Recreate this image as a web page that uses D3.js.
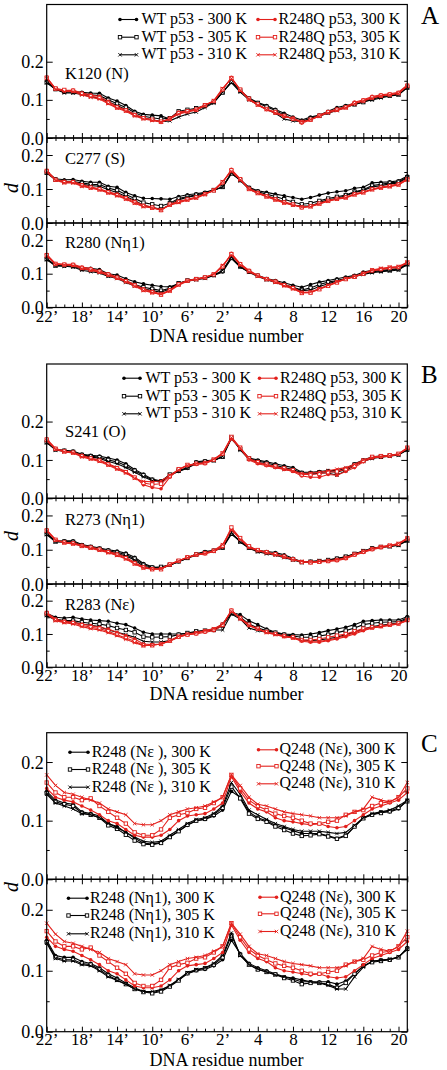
<!DOCTYPE html>
<html><head><meta charset="utf-8">
<script src="https://cdn.jsdelivr.net/npm/d3@7"></script>
<style>body{margin:0;background:#fff} svg{display:block}</style>
</head><body><svg id="c" width="447" height="1070"></svg>
<script>
// ---------- categories / tick labels ----------
const residueLabels = ["22’","18’","14’","10’","6’","2’","4","8","12","16","20"];
const residueTickIdx = [0,4,8,12,16,20,24,28,32,36,40];
const residueIdx = d3.range(42);           // 22' ... 2', 1 ... 21
const yTickVals = [0, 0.1, 0.2];
const yMinorVals = [0.05, 0.15];
const legendTemps = ["300 K","305 K","310 K"];

// ---------- panel A : K120 (N) ----------
const K120_wt300 = [0.148,0.129,0.120,0.122,0.120,0.118,0.117,0.105,0.097,0.085,0.070,0.062,0.060,0.058,0.050,0.065,0.070,0.075,0.083,0.095,0.120,0.148,0.125,0.105,0.093,0.085,0.075,0.065,0.055,0.047,0.055,0.060,0.070,0.080,0.085,0.090,0.095,0.105,0.110,0.112,0.115,0.133];
const K120_wt305 = [0.146,0.128,0.121,0.120,0.117,0.113,0.111,0.100,0.090,0.080,0.066,0.057,0.053,0.050,0.052,0.070,0.074,0.078,0.085,0.094,0.119,0.147,0.124,0.103,0.092,0.082,0.072,0.060,0.050,0.043,0.052,0.058,0.067,0.075,0.082,0.088,0.094,0.102,0.108,0.111,0.114,0.132];
const K120_wt310 = [0.145,0.128,0.118,0.118,0.114,0.108,0.105,0.095,0.085,0.075,0.060,0.053,0.048,0.043,0.045,0.055,0.063,0.068,0.080,0.092,0.120,0.145,0.120,0.100,0.088,0.075,0.065,0.050,0.045,0.043,0.050,0.058,0.065,0.072,0.080,0.088,0.095,0.100,0.105,0.110,0.113,0.133];
const K120_mu300 = [0.160,0.129,0.124,0.126,0.118,0.113,0.109,0.096,0.082,0.074,0.062,0.053,0.047,0.041,0.052,0.068,0.071,0.076,0.087,0.096,0.126,0.159,0.126,0.100,0.087,0.074,0.065,0.056,0.052,0.039,0.047,0.060,0.069,0.076,0.082,0.094,0.100,0.109,0.113,0.116,0.120,0.139];
const K120_mu305 = [0.158,0.130,0.126,0.124,0.116,0.110,0.105,0.092,0.080,0.072,0.060,0.052,0.048,0.043,0.050,0.065,0.070,0.074,0.086,0.097,0.128,0.157,0.127,0.103,0.088,0.076,0.068,0.058,0.050,0.042,0.048,0.058,0.068,0.074,0.080,0.091,0.098,0.106,0.111,0.114,0.118,0.137];
const K120_mu310 = [0.156,0.128,0.122,0.122,0.113,0.107,0.102,0.090,0.078,0.070,0.058,0.050,0.046,0.042,0.050,0.063,0.068,0.073,0.085,0.098,0.130,0.156,0.125,0.102,0.086,0.075,0.066,0.057,0.051,0.043,0.048,0.057,0.066,0.072,0.079,0.090,0.097,0.104,0.110,0.113,0.117,0.136];

// ---------- panel A : C277 (S) ----------
const C277_wt300 = [0.150,0.130,0.127,0.128,0.123,0.120,0.120,0.108,0.105,0.090,0.080,0.073,0.072,0.071,0.070,0.078,0.083,0.086,0.090,0.098,0.105,0.145,0.128,0.105,0.095,0.090,0.085,0.080,0.075,0.070,0.075,0.082,0.088,0.092,0.095,0.102,0.105,0.118,0.120,0.121,0.124,0.138];
const C277_wt305 = [0.148,0.128,0.122,0.122,0.118,0.114,0.113,0.103,0.096,0.084,0.072,0.060,0.055,0.050,0.058,0.072,0.078,0.083,0.088,0.097,0.106,0.146,0.126,0.103,0.092,0.085,0.078,0.070,0.062,0.055,0.058,0.065,0.072,0.077,0.082,0.092,0.098,0.110,0.114,0.118,0.121,0.135];
const C277_wt310 = [0.147,0.127,0.120,0.120,0.114,0.110,0.108,0.098,0.090,0.078,0.066,0.052,0.046,0.040,0.054,0.068,0.076,0.080,0.086,0.096,0.106,0.148,0.125,0.100,0.088,0.080,0.072,0.062,0.052,0.050,0.050,0.060,0.068,0.073,0.080,0.090,0.096,0.106,0.110,0.115,0.118,0.133];
const C277_mu300 = [0.155,0.128,0.123,0.122,0.113,0.106,0.101,0.092,0.085,0.075,0.064,0.052,0.047,0.037,0.055,0.064,0.070,0.076,0.086,0.095,0.118,0.158,0.130,0.102,0.090,0.080,0.071,0.062,0.056,0.045,0.050,0.058,0.066,0.072,0.076,0.086,0.091,0.100,0.106,0.110,0.115,0.130];
const C277_mu305 = [0.153,0.127,0.120,0.120,0.110,0.104,0.099,0.090,0.082,0.072,0.060,0.050,0.045,0.038,0.054,0.062,0.069,0.075,0.085,0.096,0.120,0.155,0.129,0.100,0.088,0.078,0.069,0.060,0.054,0.046,0.049,0.057,0.065,0.071,0.075,0.084,0.090,0.099,0.104,0.108,0.113,0.128];
const C277_mu310 = [0.150,0.126,0.118,0.118,0.108,0.102,0.097,0.088,0.080,0.070,0.058,0.048,0.044,0.039,0.052,0.060,0.067,0.073,0.084,0.097,0.122,0.152,0.127,0.099,0.087,0.077,0.068,0.059,0.052,0.047,0.048,0.056,0.064,0.070,0.074,0.083,0.089,0.098,0.103,0.107,0.112,0.127];

// ---------- panel A : R280 (Nη1) ----------
const R280_wt300 = [0.145,0.125,0.125,0.125,0.118,0.116,0.112,0.100,0.096,0.085,0.076,0.070,0.066,0.062,0.061,0.070,0.080,0.085,0.088,0.095,0.105,0.145,0.120,0.105,0.095,0.086,0.080,0.073,0.066,0.060,0.068,0.075,0.080,0.085,0.090,0.095,0.105,0.110,0.110,0.112,0.115,0.130];
const R280_wt305 = [0.143,0.124,0.124,0.122,0.114,0.110,0.106,0.095,0.090,0.078,0.068,0.060,0.055,0.050,0.057,0.072,0.080,0.084,0.088,0.096,0.108,0.148,0.122,0.106,0.094,0.084,0.076,0.068,0.060,0.052,0.058,0.068,0.075,0.080,0.086,0.092,0.100,0.106,0.108,0.110,0.113,0.128];
const R280_wt310 = [0.142,0.123,0.122,0.120,0.110,0.106,0.102,0.092,0.086,0.074,0.064,0.055,0.050,0.045,0.055,0.070,0.078,0.082,0.086,0.095,0.110,0.150,0.120,0.104,0.092,0.082,0.074,0.066,0.058,0.050,0.052,0.062,0.070,0.078,0.085,0.092,0.098,0.103,0.106,0.108,0.111,0.127];
const R280_mu300 = [0.157,0.130,0.128,0.128,0.120,0.115,0.108,0.100,0.090,0.080,0.068,0.055,0.048,0.040,0.052,0.070,0.080,0.085,0.090,0.098,0.120,0.160,0.130,0.110,0.095,0.085,0.078,0.068,0.060,0.045,0.045,0.055,0.065,0.075,0.085,0.090,0.100,0.108,0.112,0.116,0.118,0.132];
const R280_mu305 = [0.155,0.129,0.127,0.126,0.117,0.112,0.106,0.097,0.088,0.078,0.065,0.052,0.045,0.038,0.050,0.068,0.079,0.084,0.089,0.098,0.122,0.158,0.128,0.108,0.094,0.084,0.076,0.066,0.057,0.043,0.044,0.054,0.064,0.074,0.084,0.091,0.100,0.110,0.114,0.118,0.120,0.133];
const R280_mu310 = [0.152,0.128,0.126,0.124,0.115,0.110,0.104,0.095,0.086,0.076,0.063,0.050,0.044,0.039,0.049,0.066,0.078,0.083,0.088,0.099,0.125,0.155,0.126,0.106,0.093,0.083,0.075,0.064,0.055,0.044,0.046,0.056,0.066,0.076,0.086,0.092,0.101,0.111,0.116,0.119,0.121,0.134];

// ---------- panel B : S241 (O) ----------
const S241_wt300 = [0.148,0.128,0.125,0.123,0.115,0.112,0.110,0.105,0.100,0.090,0.075,0.063,0.050,0.045,0.060,0.070,0.078,0.095,0.098,0.100,0.108,0.155,0.130,0.105,0.100,0.095,0.090,0.085,0.080,0.068,0.068,0.070,0.072,0.072,0.078,0.090,0.100,0.108,0.110,0.112,0.115,0.128];
const S241_wt305 = [0.146,0.127,0.124,0.121,0.113,0.110,0.107,0.100,0.095,0.085,0.072,0.060,0.048,0.044,0.062,0.072,0.080,0.093,0.096,0.099,0.108,0.158,0.128,0.104,0.097,0.092,0.086,0.080,0.075,0.066,0.065,0.068,0.070,0.068,0.075,0.088,0.098,0.106,0.108,0.111,0.114,0.127];
const S241_wt310 = [0.145,0.126,0.122,0.120,0.111,0.108,0.104,0.096,0.090,0.080,0.068,0.056,0.046,0.042,0.060,0.071,0.079,0.090,0.094,0.098,0.109,0.160,0.126,0.102,0.094,0.088,0.082,0.076,0.072,0.064,0.062,0.066,0.066,0.060,0.072,0.086,0.096,0.104,0.107,0.110,0.113,0.126];
const S241_mu300 = [0.155,0.130,0.123,0.120,0.112,0.105,0.100,0.090,0.080,0.070,0.055,0.035,0.028,0.025,0.055,0.075,0.085,0.088,0.090,0.100,0.115,0.155,0.130,0.100,0.090,0.085,0.080,0.075,0.070,0.058,0.055,0.055,0.062,0.060,0.070,0.080,0.095,0.105,0.108,0.110,0.115,0.130];
const S241_mu305 = [0.153,0.129,0.122,0.119,0.110,0.104,0.098,0.088,0.078,0.068,0.054,0.040,0.036,0.038,0.058,0.076,0.087,0.090,0.092,0.101,0.117,0.160,0.132,0.104,0.094,0.088,0.083,0.078,0.073,0.062,0.062,0.064,0.068,0.070,0.076,0.085,0.098,0.108,0.110,0.112,0.116,0.132];
const S241_mu310 = [0.150,0.128,0.121,0.118,0.108,0.102,0.096,0.086,0.076,0.066,0.052,0.044,0.043,0.045,0.060,0.074,0.086,0.090,0.093,0.102,0.118,0.158,0.131,0.103,0.092,0.087,0.081,0.076,0.071,0.064,0.066,0.068,0.072,0.076,0.080,0.088,0.100,0.106,0.109,0.111,0.115,0.131];

// ---------- panel B : R273 (Nη1) ----------
const R273_wt300 = [0.148,0.125,0.126,0.126,0.115,0.110,0.105,0.100,0.096,0.090,0.078,0.060,0.050,0.045,0.055,0.065,0.075,0.088,0.095,0.098,0.105,0.145,0.125,0.108,0.098,0.095,0.092,0.085,0.075,0.065,0.066,0.068,0.070,0.075,0.078,0.088,0.095,0.105,0.108,0.110,0.115,0.128];
const R273_wt305 = [0.146,0.124,0.124,0.123,0.113,0.108,0.103,0.097,0.092,0.086,0.074,0.056,0.048,0.050,0.056,0.066,0.076,0.086,0.092,0.097,0.106,0.148,0.124,0.106,0.096,0.092,0.088,0.080,0.072,0.064,0.065,0.067,0.070,0.074,0.080,0.088,0.096,0.104,0.108,0.110,0.114,0.127];
const R273_wt310 = [0.144,0.123,0.122,0.121,0.111,0.106,0.101,0.094,0.088,0.082,0.070,0.052,0.046,0.047,0.055,0.066,0.075,0.084,0.090,0.096,0.106,0.150,0.122,0.104,0.094,0.088,0.084,0.077,0.070,0.063,0.064,0.067,0.069,0.073,0.079,0.087,0.096,0.103,0.107,0.109,0.113,0.126];
const R273_mu300 = [0.158,0.130,0.122,0.120,0.113,0.108,0.102,0.095,0.088,0.078,0.063,0.050,0.044,0.045,0.058,0.068,0.078,0.085,0.088,0.095,0.108,0.162,0.132,0.108,0.098,0.092,0.086,0.080,0.072,0.065,0.062,0.064,0.066,0.068,0.074,0.084,0.092,0.100,0.106,0.110,0.116,0.132];
const R273_mu305 = [0.156,0.129,0.121,0.118,0.111,0.106,0.100,0.093,0.085,0.075,0.060,0.048,0.043,0.043,0.057,0.068,0.078,0.086,0.090,0.097,0.112,0.165,0.134,0.110,0.099,0.093,0.087,0.080,0.072,0.064,0.063,0.065,0.067,0.070,0.076,0.086,0.094,0.102,0.108,0.112,0.117,0.133];
const R273_mu310 = [0.154,0.128,0.120,0.117,0.110,0.104,0.098,0.091,0.083,0.073,0.058,0.047,0.043,0.044,0.056,0.067,0.077,0.085,0.089,0.098,0.115,0.158,0.130,0.106,0.097,0.091,0.085,0.079,0.071,0.066,0.064,0.066,0.068,0.071,0.077,0.087,0.095,0.103,0.109,0.113,0.118,0.134];

// ---------- panel B : R283 (Nε) ----------
const R283_wt300 = [0.162,0.150,0.148,0.150,0.145,0.142,0.140,0.138,0.132,0.128,0.118,0.105,0.100,0.100,0.100,0.100,0.102,0.106,0.110,0.113,0.130,0.165,0.158,0.140,0.128,0.115,0.105,0.100,0.098,0.097,0.100,0.104,0.110,0.115,0.120,0.128,0.138,0.140,0.142,0.142,0.142,0.152];
const R283_wt305 = [0.158,0.145,0.140,0.140,0.135,0.132,0.130,0.125,0.118,0.112,0.105,0.092,0.090,0.091,0.092,0.098,0.103,0.108,0.110,0.112,0.125,0.162,0.150,0.130,0.118,0.110,0.104,0.098,0.094,0.090,0.090,0.094,0.098,0.104,0.110,0.118,0.128,0.132,0.135,0.136,0.137,0.148];
const R283_wt310 = [0.155,0.142,0.138,0.136,0.130,0.126,0.122,0.112,0.105,0.098,0.090,0.078,0.076,0.076,0.080,0.092,0.100,0.106,0.110,0.112,0.112,0.160,0.145,0.118,0.110,0.105,0.100,0.095,0.090,0.082,0.080,0.082,0.086,0.090,0.098,0.106,0.115,0.122,0.126,0.130,0.133,0.145];
const R283_mu300 = [0.165,0.145,0.138,0.135,0.130,0.125,0.120,0.115,0.105,0.095,0.085,0.070,0.068,0.070,0.078,0.090,0.098,0.100,0.105,0.110,0.125,0.172,0.145,0.125,0.115,0.105,0.100,0.092,0.088,0.078,0.075,0.075,0.080,0.085,0.092,0.100,0.110,0.118,0.122,0.126,0.130,0.140];
const R283_mu305 = [0.163,0.142,0.136,0.133,0.126,0.120,0.116,0.108,0.098,0.088,0.078,0.066,0.066,0.070,0.080,0.092,0.098,0.102,0.108,0.114,0.128,0.170,0.148,0.128,0.116,0.106,0.100,0.094,0.090,0.082,0.082,0.085,0.090,0.095,0.100,0.108,0.116,0.120,0.124,0.128,0.132,0.142];
const R283_mu310 = [0.160,0.140,0.134,0.130,0.122,0.116,0.112,0.104,0.095,0.084,0.074,0.065,0.066,0.070,0.080,0.093,0.100,0.104,0.110,0.116,0.130,0.168,0.146,0.126,0.114,0.104,0.098,0.092,0.088,0.080,0.078,0.078,0.082,0.088,0.095,0.104,0.112,0.118,0.122,0.126,0.130,0.141];

// ---------- panel C : R248 (Nε), R248 (Nη1), Q248 (Nε) ----------
const R248Ne_300 = [0.150,0.135,0.130,0.128,0.115,0.112,0.108,0.095,0.090,0.080,0.070,0.062,0.060,0.063,0.072,0.082,0.092,0.100,0.102,0.108,0.118,0.150,0.140,0.115,0.105,0.100,0.092,0.088,0.083,0.078,0.078,0.078,0.074,0.070,0.075,0.090,0.105,0.110,0.115,0.115,0.120,0.135];
const R248Ne_305 = [0.147,0.132,0.128,0.125,0.113,0.110,0.105,0.092,0.086,0.076,0.066,0.060,0.059,0.062,0.072,0.082,0.093,0.100,0.103,0.110,0.122,0.158,0.138,0.112,0.103,0.098,0.090,0.084,0.078,0.074,0.075,0.077,0.073,0.069,0.074,0.090,0.104,0.110,0.113,0.116,0.122,0.133];
const R248Ne_310 = [0.145,0.130,0.125,0.120,0.112,0.110,0.105,0.095,0.088,0.080,0.072,0.065,0.063,0.065,0.075,0.085,0.095,0.102,0.105,0.112,0.125,0.165,0.145,0.118,0.110,0.102,0.095,0.090,0.085,0.082,0.082,0.082,0.080,0.078,0.080,0.092,0.105,0.112,0.115,0.118,0.125,0.135];
const R248Nh_300 = [0.150,0.125,0.122,0.122,0.115,0.112,0.105,0.095,0.088,0.080,0.072,0.066,0.064,0.068,0.075,0.085,0.095,0.100,0.102,0.108,0.118,0.150,0.128,0.112,0.105,0.100,0.095,0.090,0.088,0.085,0.082,0.082,0.082,0.078,0.083,0.095,0.108,0.115,0.118,0.118,0.122,0.138];
const R248Nh_305 = [0.147,0.122,0.118,0.118,0.112,0.110,0.102,0.092,0.085,0.078,0.070,0.065,0.063,0.066,0.074,0.084,0.096,0.101,0.104,0.110,0.122,0.158,0.126,0.110,0.102,0.098,0.094,0.088,0.084,0.078,0.080,0.080,0.078,0.072,0.080,0.095,0.108,0.114,0.116,0.118,0.122,0.136];
const R248Nh_310 = [0.145,0.120,0.116,0.116,0.110,0.108,0.100,0.090,0.084,0.078,0.070,0.066,0.066,0.069,0.076,0.086,0.097,0.102,0.105,0.112,0.125,0.162,0.125,0.110,0.103,0.098,0.093,0.090,0.086,0.082,0.082,0.080,0.076,0.070,0.070,0.090,0.106,0.116,0.117,0.119,0.123,0.135];
const Q248Ne_300 = [0.155,0.140,0.135,0.132,0.125,0.118,0.110,0.100,0.095,0.085,0.075,0.072,0.072,0.075,0.085,0.100,0.108,0.110,0.112,0.120,0.130,0.175,0.150,0.130,0.120,0.115,0.105,0.100,0.098,0.095,0.093,0.095,0.090,0.088,0.090,0.100,0.110,0.120,0.125,0.130,0.135,0.148];
const Q248Ne_305 = [0.165,0.148,0.140,0.140,0.135,0.138,0.125,0.115,0.105,0.095,0.080,0.075,0.075,0.085,0.105,0.110,0.113,0.120,0.122,0.130,0.140,0.178,0.155,0.135,0.125,0.118,0.112,0.108,0.105,0.100,0.095,0.095,0.098,0.100,0.110,0.115,0.118,0.125,0.130,0.132,0.140,0.155];
const Q248Ne_310 = [0.178,0.160,0.148,0.145,0.140,0.135,0.130,0.120,0.115,0.110,0.095,0.093,0.093,0.100,0.110,0.115,0.120,0.122,0.125,0.132,0.140,0.178,0.160,0.140,0.128,0.125,0.120,0.115,0.112,0.110,0.108,0.105,0.105,0.105,0.108,0.115,0.120,0.140,0.135,0.132,0.140,0.165];

// ---------- layout ----------
const BLACK = "#000", RED = "#e3201c";
const FONT = "'Liberation Serif','Times New Roman',serif";
const svg = d3.select("#c");
const x = d3.scaleLinear().domain([0, 41]).range([46.7, 407.3]);

const styles = [
  {color: BLACK, marker: "circle"}, {color: BLACK, marker: "square"}, {color: BLACK, marker: "cross"},
  {color: RED, marker: "circle"}, {color: RED, marker: "square"}, {color: RED, marker: "cross"}
];

function drawMarkers(g, type, pts, color) {
  if (type === "circle") {
    g.selectAll("circle.m").data(pts).join("circle").attr("class","m")
      .attr("cx", d => d[0]).attr("cy", d => d[1]).attr("r", 1.8).attr("fill", color);
  } else if (type === "square") {
    g.selectAll("rect.m").data(pts).join("rect").attr("class","m")
      .attr("x", d => d[0]-1.7).attr("y", d => d[1]-1.7).attr("width", 3.4).attr("height", 3.4)
      .attr("fill", "#fff").attr("stroke", color).attr("stroke-width", 0.9);
  } else {
    g.selectAll("path.m").data(pts).join("path").attr("class","m")
      .attr("d", d => `M${d[0]-1.7},${d[1]-1.7}L${d[0]+1.7},${d[1]+1.7}M${d[0]-1.7},${d[1]+1.7}L${d[0]+1.7},${d[1]-1.7}`)
      .attr("stroke", color).attr("stroke-width", 0.9);
  }
}

function styleAxis(g, size) {
  g.select(".domain").remove();
  g.attr("font-family", FONT).attr("font-size", size);
  g.selectAll("line").attr("stroke", "#000").attr("stroke-width", 1);
}

function drawSub(s) {
  const y = d3.scaleLinear().domain([0, s.ymax]).range([s.bottom, s.top]);
  const g = svg.append("g");
  // left axis (ticks inward)
  g.append("g").attr("transform", `translate(${x.range()[0]},0)`)
    .call(d3.axisLeft(y).tickValues(yTickVals).tickSize(-6).tickPadding(3).tickFormat(d3.format(".1f")))
    .call(a => styleAxis(a, 18)).call(a => a.selectAll("text").attr("fill","#000").attr("dy","0.34em"));
  g.append("g").attr("transform", `translate(${x.range()[0]},0)`)
    .call(d3.axisLeft(y).tickValues(yMinorVals).tickSize(-3).tickFormat(""))
    .call(a => styleAxis(a, 18));
  // right axis
  g.append("g").attr("transform", `translate(${x.range()[1]},0)`)
    .call(d3.axisRight(y).tickValues(yTickVals).tickSize(-6).tickFormat(""))
    .call(a => styleAxis(a, 18));
  g.append("g").attr("transform", `translate(${x.range()[1]},0)`)
    .call(d3.axisRight(y).tickValues(yMinorVals).tickSize(-3).tickFormat(""))
    .call(a => styleAxis(a, 18));
  // bottom axis ticks (inward)
  const bx = g.append("g").attr("transform", `translate(0,${s.bottom})`);
  bx.append("g").call(d3.axisBottom(x).tickValues(residueTickIdx).tickSize(-5).tickPadding(s.labelPad || 4)
      .tickFormat((d, i) => s.xLabels ? residueLabels[i] : ""))
    .call(a => styleAxis(a, 17)).call(a => a.selectAll("text").attr("fill","#000"));
  bx.append("g").call(d3.axisBottom(x).tickValues(residueIdx.filter(i => i % 4 !== 0)).tickSize(-3).tickFormat(""))
    .call(a => styleAxis(a, 17));
  // top axis ticks (inward) for lower subplots
  if (!s.first) {
    const tx = g.append("g").attr("transform", `translate(0,${s.top})`);
    tx.append("g").call(d3.axisTop(x).tickValues(residueTickIdx).tickSize(-5).tickFormat("")).call(a => styleAxis(a, 17));
    tx.append("g").call(d3.axisTop(x).tickValues(residueIdx.filter(i => i % 4 !== 0)).tickSize(-3).tickFormat(""))
      .call(a => styleAxis(a, 17));
  }
  // series
  const line = d3.line().x((d, i) => x(i)).y(d => y(d));
  s.series.forEach((vals, k) => {
    const st = styles[k];
    const sg = g.append("g");
    sg.append("path").datum(vals).attr("d", line).attr("fill", "none")
      .attr("stroke", st.color).attr("stroke-width", 1.1);
    drawMarkers(sg, st.marker, vals.map((v, i) => [x(i), y(v)]), st.color);
  });
  // frame
  g.append("rect").attr("x", x.range()[0]).attr("y", s.top)
    .attr("width", x.range()[1] - x.range()[0]).attr("height", s.bottom - s.top)
    .attr("fill", "none").attr("stroke", "#000").attr("stroke-width", 1.2);
  // subplot label
  if (s.label) g.append("text").attr("x", 65).attr("y", s.labelY).text(s.label)
    .attr("font-family", FONT).attr("font-size", 16.5);
  // legend
  if (s.legend) s.legend.forEach(col => {
    col.names.forEach((name, r) => {
      const st = styles[col.offset + r];
      const yy = col.ys[r] - 4.5;
      const lg = svg.append("g");
      lg.append("line").attr("x1", col.x1).attr("x2", col.x2).attr("y1", yy).attr("y2", yy)
        .attr("stroke", st.color).attr("stroke-width", 1.1);
      drawMarkers(lg, st.marker, [[col.x1, yy], [col.x2, yy]], st.color);
      lg.append("text").attr("x", col.tx).attr("y", col.ys[r]).text(name)
        .attr("font-family", FONT).attr("font-size", 16);
    });
  });
}

const wtNames = legendTemps.map(t => "WT p53 - " + t);
const muNames = legendTemps.map(t => "R248Q p53, " + t);

const subs = [
  {top: 4.5, bottom: 138, ymax: 0.35, first: true, label: "K120 (N)", labelY: 79,
   series: [K120_wt300, K120_wt305, K120_wt310, K120_mu300, K120_mu305, K120_mu310],
   legend: [{names: wtNames, offset: 0, x1: 120, x2: 136.5, tx: 141.5, ys: [24, 41.7, 59.3]},
            {names: muNames, offset: 3, x1: 258, x2: 275, tx: 278.5, ys: [24, 41.7, 59.3]}]},
  {top: 138, bottom: 223, ymax: 0.25, label: "C277 (S)", labelY: 164,
   series: [C277_wt300, C277_wt305, C277_wt310, C277_mu300, C277_mu305, C277_mu310]},
  {top: 223, bottom: 307.5, ymax: 0.25, label: "R280 (Nη1)", labelY: 248, xLabels: true, labelPad: 2.5,
   series: [R280_wt300, R280_wt305, R280_wt310, R280_mu300, R280_mu305, R280_mu310]},
  {top: 364, bottom: 498.3, ymax: 0.35, first: true, label: "S241 (O)", labelY: 436.5,
   series: [S241_wt300, S241_wt305, S241_wt310, S241_mu300, S241_mu305, S241_mu310],
   legend: [{names: wtNames, offset: 0, x1: 124, x2: 140, tx: 145.5, ys: [382.7, 400.7, 418.3]},
            {names: muNames, offset: 3, x1: 259.5, x2: 276, tx: 280, ys: [382.7, 400.7, 418.3]}]},
  {top: 498.3, bottom: 584, ymax: 0.25, label: "R273 (Nη1)", labelY: 525,
   series: [R273_wt300, R273_wt305, R273_wt310, R273_mu300, R273_mu305, R273_mu310]},
  {top: 584, bottom: 667.3, ymax: 0.25, label: "R283 (Nε)", labelY: 609.5, xLabels: true, labelPad: 1.5,
   series: [R283_wt300, R283_wt305, R283_wt310, R283_mu300, R283_mu305, R283_mu310]},
  {top: 732.7, bottom: 879.3, ymax: 0.25, first: true,
   series: [R248Ne_300, R248Ne_305, R248Ne_310, Q248Ne_300, Q248Ne_305, Q248Ne_310],
   legend: [{names: legendTemps.map(t => "R248 (Nε ), " + t), offset: 0, x1: 70, x2: 88, tx: 91.7, ys: [756.7, 774, 791.7]},
            {names: legendTemps.map(t => "Q248 (Nε), " + t), offset: 3, x1: 258.5, x2: 276.5, tx: 279.5, ys: [754.3, 770.7, 788.3]}]},
  {top: 879.3, bottom: 1031.7, ymax: 0.25, xLabels: true, labelPad: 1.5,
   series: [R248Nh_300, R248Nh_305, R248Nh_310, Q248Ne_300, Q248Ne_305, Q248Ne_310],
   legend: [{names: legendTemps.map(t => "R248 (Nη1), " + t), offset: 0, x1: 68.5, x2: 87, tx: 90, ys: [902.7, 920, 938.3]},
            {names: legendTemps.map(t => "Q248 (Nε), " + t), offset: 3, x1: 260, x2: 276.5, tx: 280, ys: [901.7, 918.3, 936]}]}
];
subs.forEach(drawSub);

// axis titles, panel letters
[342, 700, 1066].forEach(yy => svg.append("text").attr("x", 226.5).attr("y", yy)
  .attr("text-anchor", "middle").attr("font-family", FONT).attr("font-size", 18).text("DNA residue number"));
[188, 536, 887].forEach(yy => svg.append("text").attr("transform", `translate(18,${yy}) rotate(-90)`)
  .attr("text-anchor", "middle").attr("font-family", FONT).attr("font-style", "italic").attr("font-size", 20).text("d"));
[["A", 24], ["B", 383], ["C", 751.7]].forEach(([t, yy]) => svg.append("text").attr("x", 421).attr("y", yy)
  .attr("font-family", FONT).attr("font-size", 25).text(t));
</script></body></html>
